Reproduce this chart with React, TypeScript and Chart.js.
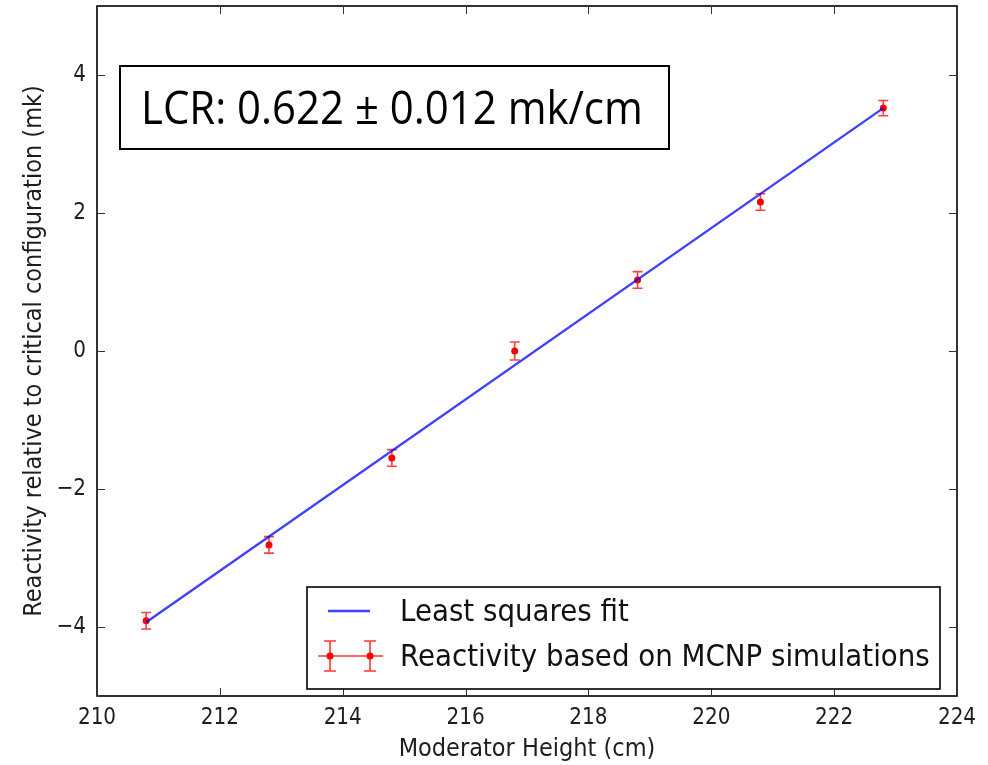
import React, { useEffect, useRef } from 'react';
import { Chart, registerables } from 'chart.js';

Chart.register(...registerables);

// ---- data ----
const heights = [210.8, 212.8, 214.8, 216.8, 218.8, 220.8, 222.8];
const reactivity = [-3.91, -2.81, -1.55, 0.0, 1.03, 2.16, 3.52];
const reactivityErr = [0.12, 0.12, 0.12, 0.13, 0.12, 0.12, 0.11];
const fitHeights = [210.8, 222.8];
const fitReactivity = [-3.93, 3.52];
const xTicks = [210, 212, 214, 216, 218, 220, 222, 224];
const yTicks = [-4, -2, 0, 2, 4];
const xLabel = 'Moderator Height (cm)';
const yLabel = 'Reactivity relative to critical configuration (mk)';
const fitLabel = 'Least squares fit';
const dataLabel = 'Reactivity based on MCNP simulations';
const annotationText = 'LCR: 0.622 \u00b1 0.012 mk/cm';

const FONT = "'DejaVu Sans', sans-serif";
const fmt = (v: number) => (v < 0 ? '\u2212' + Math.abs(v) : String(v));

// draw text stretched vertically by factor s around its anchor
function stretchedText(ctx: any, text: string, x: number, y: number, s: number) {
  ctx.save();
  ctx.translate(x, y);
  ctx.scale(1, s);
  ctx.fillText(text, 0, 0);
  ctx.restore();
}

const customPlugin = {
  id: 'customDraw',
  beforeDatasetsDraw(chart: any) {
    const ctx = chart.ctx;
    const xs = chart.scales.x;
    const ys = chart.scales.y;
    ctx.save();
    ctx.strokeStyle = 'rgba(255,0,0,0.75)';
    ctx.lineWidth = 1.6;
    heights.forEach((h, i) => {
      const px = xs.getPixelForValue(h);
      const top = ys.getPixelForValue(reactivity[i] + reactivityErr[i]);
      const bot = ys.getPixelForValue(reactivity[i] - reactivityErr[i]);
      ctx.beginPath();
      ctx.moveTo(px, top);
      ctx.lineTo(px, bot);
      ctx.moveTo(px - 5, top);
      ctx.lineTo(px + 5, top);
      ctx.moveTo(px - 5, bot);
      ctx.lineTo(px + 5, bot);
      ctx.stroke();
    });
    ctx.restore();
  },
  afterDraw(chart: any) {
    const ctx = chart.ctx;
    const a = chart.chartArea;
    const xs = chart.scales.x;
    const ys = chart.scales.y;
    ctx.save();

    // frame
    ctx.strokeStyle = '#000';
    ctx.lineWidth = 1.6;
    ctx.strokeRect(a.left, a.top, a.right - a.left, a.bottom - a.top);

    // inner ticks on all four sides
    ctx.lineWidth = 1;
    ctx.strokeStyle = '#333';
    const TL = 8;
    ctx.beginPath();
    xTicks.forEach((t) => {
      const px = Math.round(xs.getPixelForValue(t)) + 0.5;
      ctx.moveTo(px, a.bottom);
      ctx.lineTo(px, a.bottom - TL);
      ctx.moveTo(px, a.top);
      ctx.lineTo(px, a.top + TL);
    });
    yTicks.forEach((t) => {
      const py = Math.round(ys.getPixelForValue(t)) + 0.5;
      ctx.moveTo(a.left, py);
      ctx.lineTo(a.left + TL, py);
      ctx.moveTo(a.right, py);
      ctx.lineTo(a.right - TL, py);
    });
    ctx.stroke();

    // tick labels
    ctx.fillStyle = '#1e1e1e';
    ctx.font = `20px ${FONT}`;
    ctx.textAlign = 'center';
    ctx.textBaseline = 'middle';
    xTicks.forEach((t) => {
      stretchedText(ctx, fmt(t), xs.getPixelForValue(t), a.bottom + 22, 1.15);
    });
    ctx.textAlign = 'right';
    yTicks.forEach((t) => {
      stretchedText(ctx, fmt(t), a.left - 11, ys.getPixelForValue(t), 1.15);
    });

    // axis titles
    ctx.font = `22.5px ${FONT}`;
    ctx.textAlign = 'center';
    ctx.textBaseline = 'alphabetic';
    stretchedText(ctx, xLabel, (a.left + a.right) / 2, 756, 1.1);
    ctx.save();
    ctx.translate(41, (a.top + a.bottom) / 2);
    ctx.rotate(-Math.PI / 2);
    ctx.scale(1, 1.1);
    ctx.fillText(yLabel, 0, 0);
    ctx.restore();

    // annotation box
    const bx = 120, by = 66, bw = 549, bh = 83;
    ctx.fillStyle = '#fff';
    ctx.fillRect(bx, by, bw, bh);
    ctx.strokeStyle = '#000';
    ctx.lineWidth = 2;
    ctx.strokeRect(bx, by, bw, bh);
    let size = 42;
    ctx.font = `${size}px 'Open Sans', sans-serif`;
    const w = ctx.measureText(annotationText).width;
    size = size * (502 / w);
    ctx.font = `${size}px 'Open Sans', sans-serif`;
    ctx.fillStyle = '#000';
    ctx.textAlign = 'left';
    stretchedText(ctx, annotationText, 141, 108 + 0.357 * size * 1.08, 1.08);

    // legend
    const lx = 307, ly = 587, lw = 633, lh = 102;
    ctx.fillStyle = '#fff';
    ctx.fillRect(lx, ly, lw, lh);
    ctx.strokeStyle = '#000';
    ctx.lineWidth = 1.6;
    ctx.strokeRect(lx, ly, lw, lh);

    // fit handle
    ctx.strokeStyle = 'rgba(0,0,255,0.75)';
    ctx.lineWidth = 2.4;
    ctx.beginPath();
    ctx.moveTo(328, 611);
    ctx.lineTo(370, 611);
    ctx.stroke();

    // errorbar handle
    const ry = 656;
    ctx.strokeStyle = 'rgba(255,0,0,0.8)';
    ctx.lineWidth = 1.6;
    ctx.beginPath();
    ctx.moveTo(318, ry);
    ctx.lineTo(383, ry);
    [330, 370].forEach((cx) => {
      ctx.moveTo(cx, ry - 15);
      ctx.lineTo(cx, ry + 15);
      ctx.moveTo(cx - 6, ry - 15);
      ctx.lineTo(cx + 6, ry - 15);
      ctx.moveTo(cx - 6, ry + 15);
      ctx.lineTo(cx + 6, ry + 15);
    });
    ctx.stroke();
    ctx.fillStyle = '#f00';
    [330, 370].forEach((cx) => {
      ctx.beginPath();
      ctx.arc(cx, ry, 3.5, 0, Math.PI * 2);
      ctx.fill();
    });

    ctx.fillStyle = '#111';
    ctx.font = `27.7px ${FONT}`;
    ctx.textAlign = 'left';
    ctx.textBaseline = 'alphabetic';
    stretchedText(ctx, fitLabel, 400, 621, 1.06);
    stretchedText(ctx, dataLabel, 400, 666, 1.06);

    ctx.restore();
  },
};

export default function App() {
  const ref = useRef<HTMLCanvasElement | null>(null);

  useEffect(() => {
    if (!ref.current) return;
    const chart = new Chart(ref.current, {
      type: 'scatter',
      data: {
        datasets: [
          {
            type: 'line',
            label: fitLabel,
            data: fitHeights.map((x, i) => ({ x, y: fitReactivity[i] })),
            borderColor: 'rgba(0,0,255,0.75)',
            borderWidth: 2.4,
            pointRadius: 0,
            fill: false,
            tension: 0,
          },
          {
            type: 'scatter',
            label: dataLabel,
            data: heights.map((x, i) => ({ x, y: reactivity[i] })),
            backgroundColor: '#ff0000',
            borderColor: '#ff0000',
            pointRadius: 3.5,
            borderWidth: 0,
          },
        ],
      },
      plugins: [customPlugin],
      options: {
        animation: false,
        responsive: true,
        maintainAspectRatio: false,
        layout: { padding: { top: 6, right: 31, left: 0, bottom: 0 } },
        plugins: {
          legend: { display: false },
          tooltip: { enabled: false },
          title: { display: false },
        },
        scales: {
          x: {
            type: 'linear',
            min: 210,
            max: 224,
            grid: { display: false },
            border: { display: false },
            ticks: { display: false },
            afterBuildTicks: (s: any) => {
              s.ticks = xTicks.map((v) => ({ value: v }));
            },
            afterFit: (s: any) => {
              s.height = 69;
            },
          },
          y: {
            type: 'linear',
            min: -5,
            max: 5,
            grid: { display: false },
            border: { display: false },
            ticks: { display: false },
            afterBuildTicks: (s: any) => {
              s.ticks = yTicks.map((v) => ({ value: v }));
            },
            afterFit: (s: any) => {
              s.width = 97;
            },
          },
        },
      } as any,
    });
    return () => chart.destroy();
  }, []);

  return (
    <div style={{ position: 'absolute', left: 0, top: 0, width: 988, height: 765, background: '#fff' }}>
      <canvas ref={ref} />
    </div>
  );
}
